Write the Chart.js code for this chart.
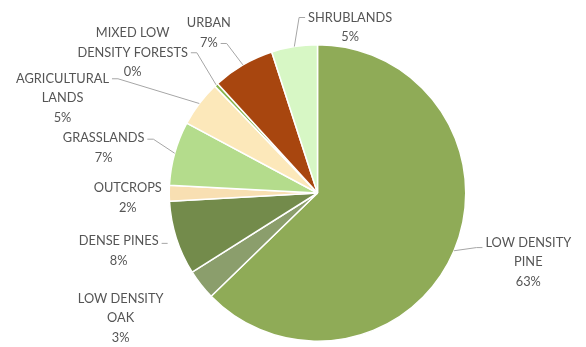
<!DOCTYPE html>
<html><head><meta charset="utf-8">
<script src="https://cdn.jsdelivr.net/npm/chart.js@4"></script>
<style>html,body{margin:0;padding:0;background:#fff}#wrap{width:586px;height:347px;position:relative}</style>
</head><body><div id="wrap"><canvas id="c"></canvas></div>
<script>
// ---- data ----
const categories = ['LOW DENSITY PINE','LOW DENSITY OAK','DENSE PINES','OUTCROPS','GRASSLANDS','AGRICULTURAL LANDS','MIXED LOW DENSITY FORESTS','URBAN','SHRUBLANDS'];
const shares = [62.8, 3.3, 8.1, 1.7, 7.0, 5.0, 0.4, 6.8, 5.0];
const labelLines = [['LOW DENSITY','PINE'],['LOW DENSITY','OAK'],['DENSE PINES'],['OUTCROPS'],['GRASSLANDS'],['AGRICULTURAL','LANDS'],['MIXED LOW','DENSITY FORESTS'],['URBAN'],['SHRUBLANDS']];

// ---- styles / layout ----
const sliceColors = ['#8fab57','#8b9e6c','#738b4b','#f8dfb2','#b4dc8c','#fce8ba','#86b54c','#a8460f','#d7f7c5'];
// label block centre in units of pie radius from the pie centre; leader attach side, line, extra y
const labelLayout = [
  {dx: 1.422, dy: 0.466, side:'left',  line:0, oy:5,  leader:true},
  {dx:-1.328, dy: 0.845, side:'right', line:0, oy:0,  leader:false},
  {dx:-1.341, dy: 0.392, side:'right', line:0, oy:2,  leader:true, short:true},
  {dx:-1.280, dy: 0.034, side:'right', line:0, oy:0,  leader:false},
  {dx:-1.443, dy:-0.304, side:'right', line:0, oy:1,  leader:true},
  {dx:-1.720, dy:-0.639, side:'right', line:0, oy:0,  leader:true},
  {dx:-1.247, dy:-0.946, side:'right', line:1, oy:0,  leader:true},
  {dx:-0.733, dy:-1.081, side:'right', line:1, oy:1,  leader:true},
  {dx: 0.220, dy:-1.118, side:'left',  line:0, oy:0,  leader:true}
];
const FONT = '12.8px Lato';
const LINE_H = 19.5;
const TEXT_COLOR = '#555555';
const LEADER_COLOR = '#a6a6a6';

const total = shares.reduce((a,b)=>a+b,0);

const labelPlugin = {
  id:'outLabels',
  afterDatasetsDraw(chart){
    const ctx = chart.ctx;
    const arcs = chart.getDatasetMeta(0).data;
    ctx.save();
    ctx.font = FONT;
    ctx.textAlign = 'center';
    ctx.textBaseline = 'middle';
    arcs.forEach((arc, i) => {
      const L = labelLayout[i];
      const R = arc.outerRadius;
      const cx = arc.x + L.dx*R, cy = arc.y + L.dy*R;
      const lines = labelLines[i].concat([Math.round(shares[i]/total*100)+'%']);
      const n = lines.length;
      const y0 = cy - (n-1)*LINE_H/2;
      ctx.fillStyle = TEXT_COLOR;
      lines.forEach((t,k)=> ctx.fillText(t, cx, y0 + k*LINE_H));
      if (L.leader) {
        const w = ctx.measureText(lines[L.line]).width;
        const ay = y0 + L.line*LINE_H + L.oy;
        const dir = L.side === 'right' ? 1 : -1;
        const ax = cx + dir*(w/2 + 3);
        const mid = (arc.startAngle + arc.endAngle)/2;
        const px = arc.x + Math.cos(mid)*R, py = arc.y + Math.sin(mid)*R;
        ctx.strokeStyle = LEADER_COLOR;
        ctx.lineWidth = 1;
        ctx.beginPath();
        ctx.moveTo(ax, ay);
        ctx.lineTo(ax + dir*6, ay);
        if (!L.short) ctx.lineTo(px, py);
        ctx.stroke();
      }
    });
    ctx.restore();
  }
};

new Chart(document.getElementById('c'), {
  type:'pie',
  data:{ labels: categories, datasets:[{ data: shares, backgroundColor: sliceColors, borderColor:'#ffffff', borderWidth:1.5 }]},
  options:{
    responsive:true, maintainAspectRatio:false, animation:false,
    layout:{ padding:{ left:168.5, right:119.5, top:44, bottom:5 } },
    plugins:{ legend:{display:false}, tooltip:{enabled:false} }
  },
  plugins:[labelPlugin]
});
</script></body></html>
